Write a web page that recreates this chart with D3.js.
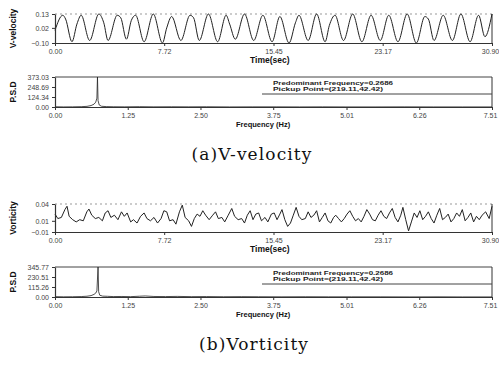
<!DOCTYPE html>
<html>
<head>
<meta charset="utf-8">
<script src="https://cdn.jsdelivr.net/npm/d3@7"></script>
<style>
  body { margin: 0; background: #fff; }
  svg { display: block; }
  .tick text { font-family: "Liberation Sans", Arial, sans-serif; font-size: 7px; fill: #444; }
  .axis path, .axis line { stroke: #333; }
  .ttl { font-family: "Liberation Sans", Arial, sans-serif; font-weight: bold; fill: #111; }
  .cap { font-family: "DejaVu Serif", serif; fill: #111; }
</style>
</head>
<body>
<div id="chart"></div>
<script>
// time series, V-velocity (sec, value)
const velT = [0.00, 0.55, 0.75, 1.20, 1.55, 1.85, 2.45, 3.10, 3.45, 3.75, 4.40, 4.65, 5.05, 5.40, 5.70,
  6.30, 6.95, 7.60, 7.90, 8.25, 8.90, 9.55, 9.80, 10.20, 10.85, 11.50, 12.10, 12.35, 12.75, 13.40,
  14.05, 14.70, 15.35, 15.90, 16.55, 17.00, 17.25, 17.90, 18.50, 19.10, 19.40, 19.80, 20.40, 21.05,
  21.70, 22.35, 23.00, 23.60, 24.25, 24.90, 25.55, 26.15, 26.40, 26.80, 27.45, 28.10, 28.70, 29.35,
  29.95, 30.40, 30.90];
const velV = [0.00, 0.12, 0.09, -0.09, 0.05, 0.12, -0.08, 0.13, 0.06, -0.08, 0.12, 0.10, -0.07, 0.08, 0.12,
  -0.09, 0.13, -0.10, 0.02, 0.11, -0.08, 0.12, 0.10, -0.08, 0.13, -0.09, 0.12, 0.05, -0.07, 0.13,
  -0.08, 0.12, -0.09, 0.11, -0.10, 0.06, 0.12, -0.08, 0.13, -0.09, 0.04, 0.12, -0.08, 0.13,
  -0.09, 0.12, -0.08, 0.12, -0.09, 0.13, -0.10, 0.11, 0.09, -0.08, 0.12, -0.08, 0.13, -0.09,
  0.12, -0.05, 0.13];

// time series, vorticity
const vortT = [0.00, 0.20, 0.45, 0.70, 0.85, 1.00, 1.25, 1.50, 1.75, 2.00, 2.25, 2.40, 2.60, 2.85, 3.10,
  3.35, 3.55, 3.75, 3.95, 4.20, 4.45, 4.70, 4.90, 5.10, 5.35, 5.55, 5.80, 6.05, 6.30, 6.50, 6.75,
  7.00, 7.25, 7.50, 7.70, 7.90, 8.10, 8.35, 8.55, 8.80, 9.00, 9.20, 9.45, 9.65, 9.85, 10.05, 10.25,
  10.45, 10.65, 10.90, 11.15, 11.35, 11.55, 11.80, 12.00, 12.25, 12.50, 12.70, 12.95, 13.20, 13.40,
  13.60, 13.80, 14.00, 14.20, 14.40, 14.60, 14.85, 15.05, 15.30, 15.50, 15.70, 15.90, 16.05, 16.25,
  16.45, 16.65, 16.85, 17.05, 17.25, 17.45, 17.70, 17.90, 18.10, 18.30, 18.50, 18.70, 18.90, 19.10,
  19.30, 19.50, 19.70, 19.85, 20.05, 20.25, 20.45, 20.65, 20.85, 21.05, 21.25, 21.45, 21.65, 21.85,
  22.05, 22.25, 22.45, 22.65, 22.85, 23.05, 23.25, 23.45, 23.65, 23.85, 24.05, 24.25, 24.45, 24.60,
  24.80, 25.00, 25.20, 25.40, 25.60, 25.80, 26.00, 26.20, 26.40, 26.60, 26.80, 27.00, 27.20, 27.40,
  27.60, 27.80, 28.00, 28.20, 28.40, 28.60, 28.80, 29.00, 29.20, 29.40, 29.60, 29.80, 30.00, 30.20,
  30.45, 30.70, 30.90];
const vortV = [0.022, 0.014, 0.016, 0.030, 0.036, 0.018, 0.012, 0.008, 0.012, 0.010, 0.026, 0.031, 0.020, 0.014, 0.016,
  0.010, 0.024, 0.028, 0.016, 0.020, 0.012, 0.026, 0.018, 0.024, 0.008, 0.012, 0.006, 0.018, 0.024, 0.014, 0.010,
  0.016, 0.006, 0.014, 0.028, 0.026, 0.010, 0.012, 0.004, 0.026, 0.038, 0.016, 0.010, 0.000, 0.014, 0.022, 0.018,
  0.028, 0.020, 0.012, 0.020, 0.026, 0.014, 0.016, 0.008, 0.020, 0.032, 0.018, 0.012, 0.014, 0.006,
  0.020, 0.028, 0.012, 0.022, 0.024, 0.010, 0.016, 0.008, 0.022, 0.024, 0.012, 0.022, 0.030, 0.012,
  0.000, 0.006, 0.020, 0.034, 0.018, 0.012, 0.014, 0.026, 0.016, 0.020, 0.028, 0.008, 0.016, 0.024,
  0.010, 0.006, 0.016, 0.020, 0.014, 0.008, 0.014, 0.022, 0.028, 0.018, 0.010, 0.014, 0.008, 0.018,
  0.030, 0.022, 0.012, 0.010, 0.020, 0.028, 0.018, 0.014, 0.024, 0.032, 0.016, 0.008, 0.020, 0.034,
  0.012, -0.008, 0.008, 0.024, 0.016, 0.028, 0.012, 0.018, 0.026, 0.014, 0.006, 0.020, 0.032, 0.012,
  0.016, 0.022, 0.008, 0.014, 0.024, 0.018, 0.030, 0.010, 0.016, 0.024, 0.008, 0.018, 0.012, 0.020,
  0.026, 0.014, 0.036];

// power spectra (Hz, P.S.D)
const psdVelF = [0.00, 0.15, 0.30, 0.45, 0.55, 0.62, 0.67, 0.70, 0.72, 0.73, 0.74, 0.76, 0.80, 0.88, 1.00,
  1.20, 1.45, 1.70, 2.00, 2.30, 2.60, 3.00, 3.40, 3.80, 4.20, 4.60, 5.00, 5.50, 6.00, 6.50, 7.00, 7.51];
const psdVelP = [3, 1, 2, 4, 8, 18, 35, 60, 110, 373.03, 80, 25, 9, 5, 3,
  2, 4, 2, 3, 2, 3, 1, 2, 2, 1, 2, 1, 1, 2, 1, 1, 1];
const psdVortF = [0.00, 0.15, 0.30, 0.45, 0.55, 0.62, 0.67, 0.70, 0.72, 0.74, 0.75, 0.77, 0.82, 0.90, 1.00,
  1.15, 1.30, 1.45, 1.55, 1.70, 1.90, 2.10, 2.35, 2.60, 2.90, 3.20, 3.50, 3.90, 4.30, 4.70, 5.10,
  5.60, 6.10, 6.60, 7.00, 7.51];
const psdVortP = [4, 2, 3, 5, 9, 16, 30, 45, 70, 345.77, 60, 20, 10, 8, 5,
  6, 4, 9, 12, 6, 5, 7, 4, 5, 3, 4, 3, 2, 3, 2, 2,
  2, 1, 2, 1, 1];

// axis ticks
const timeTicks = [0.00, 7.72, 15.45, 23.17, 30.90];
const freqTicks = [0.00, 1.25, 2.50, 3.75, 5.01, 6.26, 7.51];
const velTicks = [-0.10, 0.02, 0.13];
const vortTicks = [-0.01, 0.01, 0.04];
const psdVelTicks = [0.00, 124.34, 248.69, 373.03];
const psdVortTicks = [0.00, 115.26, 230.51, 345.77];

const legendLines = ['Predominant Frequency=0.2686', 'Pickup Point=(219.11,42.42)'];

const W = 499, H = 365;
const svg = d3.select('#chart').append('svg').attr('width', W).attr('height', H);
svg.append('rect').attr('width', W).attr('height', H).attr('fill', '#fff');

const left = 55, right = 492;

function panel(cfg) {
  const x = d3.scaleLinear().domain([cfg.xTicks[0], cfg.xTicks[cfg.xTicks.length - 1]]).range([left, right]);
  const y = d3.scaleLinear().domain([cfg.yTicks[0], cfg.yTicks[cfg.yTicks.length - 1]]).range([cfg.bottom, cfg.top]);
  const g = svg.append('g');

  // frame (top dotted for time plots, solid box for spectra)
  g.append('line').attr('x1', left).attr('x2', right).attr('y1', cfg.top).attr('y2', cfg.top)
    .attr('stroke', cfg.spectrum ? '#444' : '#999').attr('stroke-dasharray', cfg.spectrum ? null : '2,3');
  g.append('line').attr('x1', right).attr('x2', right).attr('y1', cfg.top).attr('y2', cfg.bottom)
    .attr('stroke', '#333');

  const line = d3.line().x(d => x(d[0])).y(d => y(d[1]))
    .curve(cfg.smooth ? d3.curveMonotoneX : d3.curveLinear);
  g.append('path').datum(d3.zip(cfg.xs, cfg.ys))
    .attr('fill', 'none').attr('stroke', '#222').attr('stroke-width', cfg.spectrum ? 0.8 : 1)
    .attr('d', line);

  const xa = g.append('g').attr('class', 'axis').attr('transform', `translate(0,${cfg.bottom})`)
    .call(d3.axisBottom(x).tickValues(cfg.xTicks).tickSize(3).tickSizeOuter(0).tickFormat(d3.format('.2f')));
  xa.select('.domain').attr('stroke-width', 1.2);
  xa.selectAll('.tick text').filter((d, i, n) => i === n.length - 1).attr('dx', -2);
  const ya = g.append('g').attr('class', 'axis').attr('transform', `translate(${left},0)`)
    .call(d3.axisLeft(y).tickValues(cfg.yTicks).tickSize(3).tickSizeOuter(0).tickPadding(3).tickFormat(d3.format('.2f')));
  ya.select('.domain').attr('stroke-width', 1.2);

  svg.append('text').attr('class', 'ttl')
    .attr('transform', `translate(16,${(cfg.top + cfg.bottom) / 2}) rotate(-90)`)
    .attr('text-anchor', 'middle').attr('font-size', 8.5).text(cfg.yLabel);
  svg.append('text').attr('class', 'ttl')
    .attr('x', cfg.xLabelX).attr('y', cfg.bottom + 20)
    .attr('font-size', cfg.spectrum ? 7.5 : 8.5).text(cfg.xLabel);

  if (cfg.spectrum) {
    g.append('line').attr('x1', 262).attr('x2', right).attr('y1', cfg.top + 17).attr('y2', cfg.top + 17)
      .attr('stroke', '#444');
    legendLines.forEach((t, i) => {
      g.append('text').attr('x', 273).attr('y', cfg.top + 7.5 + i * 6.5)
        .attr('font-family', 'Liberation Sans, Arial, sans-serif').attr('font-size', 5.8)
        .attr('font-weight', 'bold').attr('fill', '#222').attr('textLength', i === 0 ? 120 : 110)
        .attr('lengthAdjust', 'spacingAndGlyphs').text(t);
    });
  }
}

panel({ xs: velT, ys: velV, xTicks: timeTicks, yTicks: velTicks, top: 14, bottom: 43,
  yLabel: 'V-velocity', xLabel: 'Time(sec)', xLabelX: 250, smooth: true });
panel({ xs: psdVelF, ys: psdVelP, xTicks: freqTicks, yTicks: psdVelTicks, top: 77, bottom: 107,
  yLabel: 'P.S.D', xLabel: 'Frequency (Hz)', xLabelX: 236, spectrum: true });
panel({ xs: vortT, ys: vortV, xTicks: timeTicks, yTicks: vortTicks, top: 204, bottom: 232,
  yLabel: 'Vorticity', xLabel: 'Time(sec)', xLabelX: 250 });
panel({ xs: psdVortF, ys: psdVortP, xTicks: freqTicks, yTicks: psdVortTicks, top: 267, bottom: 297,
  yLabel: 'P.S.D', xLabel: 'Frequency (Hz)', xLabelX: 236, spectrum: true });

svg.append('text').attr('class', 'cap').attr('x', 252).attr('y', 160).attr('text-anchor', 'middle')
  .attr('font-size', 17).attr('letter-spacing', 1.1).text('(a)V-velocity');
svg.append('text').attr('class', 'cap').attr('x', 254).attr('y', 350).attr('text-anchor', 'middle')
  .attr('font-size', 17).attr('letter-spacing', 1.1).text('(b)Vorticity');
</script>
</body>
</html>
